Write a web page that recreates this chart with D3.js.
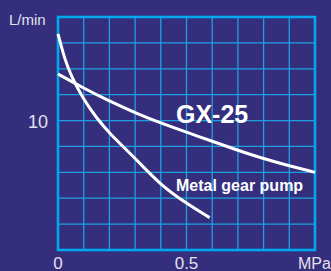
<!DOCTYPE html>
<html><head><meta charset="utf-8">
<script src="https://cdn.jsdelivr.net/npm/d3@7"></script>
<style>html,body{margin:0;padding:0;background:#352e7d;}svg{display:block;}</style>
</head><body>
<svg id="c" width="331" height="271"></svg>
<script>
const gxPressure = [0, 0.1, 0.2, 0.3, 0.4, 0.5, 0.6, 0.7, 0.8, 0.9, 1.0];
const gxFlow = [13.6, 12.5, 11.5, 10.6, 9.8, 9.1, 8.4, 7.7, 7.05, 6.5, 6.0];
const metalPressure = [0, 0.025, 0.05, 0.1, 0.15, 0.2, 0.3, 0.4, 0.5, 0.59];
const metalFlow = [16.7, 14.8, 13.5, 11.6, 10.2, 9.0, 7.1, 5.0, 3.6, 2.5];
const xTickLabels = ["0", "0.5"];
const xTickValues = [0, 0.5];
const yTickLabels = ["10"];
const yTickValues = [10];
const seriesNames = ["GX-25", "Metal gear pump"];

const svg = d3.select("#c");
const x = d3.scaleLinear().domain([0, 1]).range([58, 315]);
const y = d3.scaleLinear().domain([0, 18]).range([250, 17]);
const gridColor = "#1f9fe2";
const textColor = "#e2e2ee";
const font = "Liberation Sans, Arial, sans-serif";

svg.append("rect").attr("width", 331).attr("height", 271).attr("fill", "#352e7d");

const g = svg.append("g");
g.selectAll("line.vx").data(d3.range(1, 10).map(i => i / 10)).join("line")
  .attr("x1", d => x(d)).attr("x2", d => x(d)).attr("y1", y(18)).attr("y2", y(0))
  .attr("stroke", gridColor).attr("stroke-width", 1.3);
g.selectAll("line.hy").data(d3.range(1, 9).map(i => i * 2)).join("line")
  .attr("y1", d => y(d)).attr("y2", d => y(d)).attr("x1", x(0)).attr("x2", x(1))
  .attr("stroke", gridColor).attr("stroke-width", 1.3);
g.append("rect").attr("x", x(0)).attr("y", y(18)).attr("width", x(1) - x(0)).attr("height", y(0) - y(18))
  .attr("fill", "none").attr("stroke", "#00a9ee").attr("stroke-width", 2.6);

const line = d3.line().x(d => x(d[0])).y(d => y(d[1])).curve(d3.curveBasis);
svg.append("path").datum(d3.zip(gxPressure, gxFlow)).attr("d", line)
  .attr("fill", "none").attr("stroke", "#ffffff").attr("stroke-width", 3);
svg.append("path").datum(d3.zip(metalPressure, metalFlow)).attr("d", line)
  .attr("fill", "none").attr("stroke", "#ffffff").attr("stroke-width", 3);

svg.append("text").attr("x", 176).attr("y", 123).text(seriesNames[0])
  .attr("fill", "#ffffff").attr("font-family", font)
  .attr("font-weight", "bold").attr("font-size", 25);
svg.append("text").attr("x", 176).attr("y", 191).text(seriesNames[1])
  .attr("fill", "#ffffff").attr("font-family", font)
  .attr("font-weight", "bold").attr("font-size", 16);

svg.selectAll("text.xt").data(xTickValues).join("text")
  .attr("x", d => x(d)).attr("y", 268.5).attr("text-anchor", "middle")
  .text((d, i) => xTickLabels[i]).attr("fill", textColor).attr("font-family", font).attr("font-size", 17);
svg.selectAll("text.yt").data(yTickValues).join("text")
  .attr("x", 48).attr("y", d => y(d) + 7).attr("text-anchor", "end")
  .text((d, i) => yTickLabels[i]).attr("fill", textColor).attr("font-family", font).attr("font-size", 18);
svg.append("text").attr("x", 9).attr("y", 25).text("L/min").attr("fill", textColor).attr("font-family", font).attr("font-size", 15);
svg.append("text").attr("x", 298).attr("y", 268.5).text("MPa").attr("fill", textColor).attr("font-family", font).attr("font-size", 16);
</script>
</body></html>
